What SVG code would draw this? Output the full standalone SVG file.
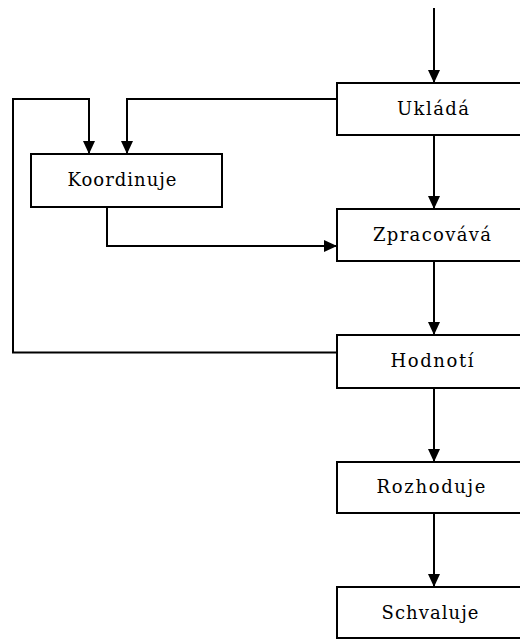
<svg xmlns="http://www.w3.org/2000/svg" width="520" height="639" viewBox="0 0 520 639">
  <defs>
    <marker id="arrow" markerUnits="userSpaceOnUse" markerWidth="14" markerHeight="12" refX="13" refY="6" orient="auto">
      <path d="M0,0 L13,6 L0,12 Z" fill="#000"/>
    </marker>
    <style>
      .box { fill: #fff; stroke: #000; stroke-width: 2; }
      .lbl { font-family: "DejaVu Serif", "Liberation Serif", serif; font-size: 18px; fill: #000; text-anchor: middle; }
      .wire { fill: none; stroke: #000; stroke-width: 2; }
      .arr { marker-end: url(#arrow); }
    </style>
  </defs>
  <rect width="520" height="639" fill="#fff"/>

  <!-- connectors -->
  <g id="connectors">
    <path class="wire arr" d="M434,8 V83"/>
    <path class="wire arr" d="M434,135 V209"/>
    <path class="wire arr" d="M434,261 V335"/>
    <path class="wire arr" d="M434,388 V462"/>
    <path class="wire arr" d="M434,513 V587"/>
    <path class="wire arr" d="M337,99 H127 V154"/>
    <path class="wire arr" d="M337,352.5 H13 V99 H89 V154"/>
    <path class="wire arr" d="M107,207 V246 H337"/>
  </g>

  <!-- nodes -->
  <g id="uklada">
    <rect class="box" x="337" y="83" width="200" height="52"/>
    <text class="lbl" x="433" y="115" textLength="72" lengthAdjust="spacing">Ukládá</text>
  </g>
  <g id="koordinuje">
    <rect class="box" x="31" y="154" width="191" height="53"/>
    <text class="lbl" x="122" y="186" textLength="109" lengthAdjust="spacing">Koordinuje</text>
  </g>
  <g id="zpracovava">
    <rect class="box" x="337" y="209" width="200" height="52"/>
    <text class="lbl" x="432" y="241" textLength="118" lengthAdjust="spacing">Zpracovává</text>
  </g>
  <g id="hodnoti">
    <rect class="box" x="337" y="335" width="200" height="53"/>
    <text class="lbl" x="432" y="367" textLength="83" lengthAdjust="spacing">Hodnotí</text>
  </g>
  <g id="rozhoduje">
    <rect class="box" x="337" y="462" width="200" height="51"/>
    <text class="lbl" x="431" y="493" textLength="109" lengthAdjust="spacing">Rozhoduje</text>
  </g>
  <g id="schvaluje">
    <rect class="box" x="337" y="587" width="200" height="51"/>
    <text class="lbl" x="430" y="619" textLength="97" lengthAdjust="spacing">Schvaluje</text>
  </g>
</svg>
